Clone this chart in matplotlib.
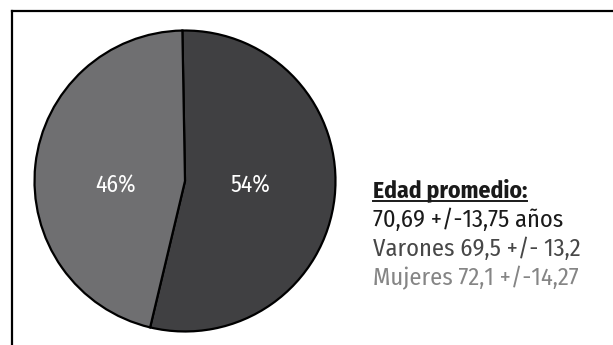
import matplotlib
matplotlib.use("Agg")
import matplotlib.pyplot as plt
from matplotlib.lines import Line2D
from matplotlib import font_manager as fm

shares = [54, 46]
slice_labels = ["54%", "46%"]
colors = ["#404042", "#6f6f71"]
title_text = "Edad promedio:"
info_lines = ["70,69 +/-13,75 años", "Varones 69,5 +/- 13,2", "Mujeres 72,1 +/-14,27"]
info_colors = ["#1a1a1a", "#474747", "#858585"]

names = {f.name for f in fm.fontManager.ttflist}
fam = next((n for n in ["Fira Sans Condensed", "IBM Plex Sans Condensed", "Roboto Condensed"] if n in names), "DejaVu Sans")
plt.rcParams["font.family"] = [fam, "DejaVu Sans"]

W, H = 613, 345
fig = plt.figure(figsize=(W / 100, H / 100), dpi=100)
fig.patch.set_facecolor("white")

cx, cy, r = 185, 181, 152
ax = fig.add_axes([(cx - r) / W, 1 - (cy + r) / H, 2 * r / W, 2 * r / H])
ax.pie(shares, colors=colors, startangle=91, counterclock=False,
       wedgeprops=dict(edgecolor="black", linewidth=1.6), radius=0.99)
ax.set_xlim(-1, 1); ax.set_ylim(-1, 1)
ax.set_aspect("auto")
ax.axis("off")

FS = 17
FS_INFO = 17.6
def px2fig(x, y):
    return x / W, 1 - y / H

for lab, (lx, ly) in zip(slice_labels, [(250, 193), (116, 193)]):
    fx, fy = px2fig(lx, ly)
    fig.text(fx, fy, lab, color="white", fontsize=FS, ha="center", va="baseline")

fig.add_artist(Line2D([12 / W, 1.0], [1 - 11 / H, 1 - 11 / H], color="black", lw=1.6,
                      transform=fig.transFigure, solid_capstyle="projecting"))
fig.add_artist(Line2D([12 / W, 12 / W], [0.0, 1 - 11 / H], color="black", lw=1.6,
                      transform=fig.transFigure, solid_capstyle="projecting"))

tx = 373 / W
t = fig.text(tx, 1 - 197 / H, title_text, fontsize=FS, fontweight="bold",
             color="#1a1a1a", ha="left", va="baseline")
for i, (s, c) in enumerate(zip(info_lines, info_colors)):
    fig.text(tx, 1 - (227 + 29 * i) / H, s, fontsize=FS_INFO, color=c, ha="left", va="baseline")

fig.canvas.draw()
bb = t.get_window_extent()
uy = (H - 201)
fig.add_artist(Line2D([bb.x0 / W, bb.x1 / W], [uy / H, uy / H], color="#1a1a1a", lw=1.4,
                      transform=fig.transFigure))

fig.savefig("out.png", dpi=100)
